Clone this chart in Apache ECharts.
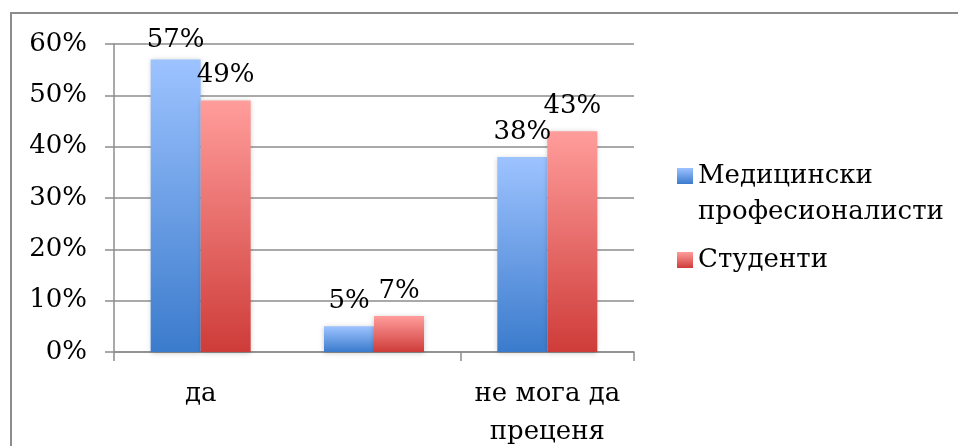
<!DOCTYPE html>
<html>
<head>
<meta charset="utf-8">
<script src="https://cdn.jsdelivr.net/npm/echarts@6/dist/echarts.min.js"></script>
<style>
  html, body { margin: 0; padding: 0; background: #fff; }
  #chart { width: 958px; height: 446px; }
</style>
</head>
<body>
<div id="chart"></div>
<script>
// Survey answers, percentage of respondents per group
const categories = ['да', 'не', 'не мога да\nпреценя'];
const seriesNames = ['Медицински\nпрофесионалисти', 'Студенти'];
const medicalValues = [57, 5, 38];
const studentValues = [49, 7, 43];
const yTicks = { min: 0, max: 60, interval: 10 };

const FONT = 'DejaVu Serif';
const GRID_GRAY = '#8c8c8c';
const LABEL_GAP = 12;

function vGradient(top, bottom) {
  return new echarts.graphic.LinearGradient(0, 0, 0, 1, [
    { offset: 0, color: top },
    { offset: 1, color: bottom }
  ]);
}

const labelStyle = {
  show: true,
  position: 'top',
  distance: LABEL_GAP,
  formatter: '{c}%',
  fontFamily: FONT,
  fontSize: 26,
  color: '#000'
};

// Labels of bars that reach near the top of the plot are pulled closer to the bar
function withLabelRoom(values) {
  return values.map(v => (v > yTicks.max - 5
    ? { value: v, label: { distance: 6 } }
    : v));
}

const barShadow = {
  shadowBlur: 5,
  shadowColor: 'rgba(0,0,0,0.22)',
  shadowOffsetY: 1
};

// Legend text is padded with blank lines so that the first line of each
// name sits level with its colour square.
function legendText(name) {
  const lines = name.split('\n');
  const below = Math.max(0, 1 - (lines.length - 1));
  return ' \n' + name + (below ? '\n ' : '');
}

const chart = echarts.init(document.getElementById('chart'), null, { renderer: 'canvas' });

chart.setOption({
  animation: false,
  backgroundColor: '#fff',
  graphic: [{
    type: 'rect',
    shape: { x: 11, y: 13, width: 1000, height: 1000 },
    style: { fill: 'none', stroke: GRID_GRAY, lineWidth: 2 },
    silent: true
  }],
  grid: { left: 114, right: 324, top: 44, bottom: 94, outerBoundsMode: 'none', containLabel: false },
  legend: {
    orient: 'vertical',
    left: 677,
    top: 122,
    padding: 0,
    itemWidth: 16,
    itemHeight: 16,
    itemGap: -24,
    itemTextGap: 7,
    icon: 'rect',
    formatter: legendText,
    textStyle: {
      fontFamily: FONT,
      fontSize: 26,
      color: '#000',
      lineHeight: 36
    },
    data: seriesNames
  },
  xAxis: {
    type: 'category',
    data: categories,
    axisLine: { lineStyle: { color: GRID_GRAY, width: 1.5 } },
    axisTick: { show: true, length: 9, lineStyle: { color: GRID_GRAY, width: 1.5 } },
    axisLabel: {
      fontFamily: FONT,
      fontSize: 26,
      color: '#000',
      lineHeight: 38,
      margin: 23
    }
  },
  yAxis: {
    type: 'value',
    min: yTicks.min,
    max: yTicks.max,
    interval: yTicks.interval,
    axisLine: { show: true, lineStyle: { color: GRID_GRAY, width: 1.5 } },
    axisTick: { show: true, length: 9, lineStyle: { color: GRID_GRAY, width: 1.5 } },
    splitLine: { lineStyle: { color: GRID_GRAY, width: 1.5 } },
    axisLabel: {
      formatter: '{value}%',
      fontFamily: FONT,
      fontSize: 26,
      color: '#000',
      margin: 27
    }
  },
  series: [
    {
      name: seriesNames[0],
      type: 'bar',
      data: withLabelRoom(medicalValues),
      barWidth: 50,
      barGap: '0%',
      itemStyle: Object.assign({ color: vGradient('#9dc3ff', '#3b7bcc') }, barShadow),
      label: labelStyle
    },
    {
      name: seriesNames[1],
      type: 'bar',
      data: withLabelRoom(studentValues),
      barWidth: 50,
      itemStyle: Object.assign({ color: vGradient('#ff9d9b', '#ce3c39') }, barShadow),
      label: labelStyle
    }
  ]
});
</script>
</body>
</html>
